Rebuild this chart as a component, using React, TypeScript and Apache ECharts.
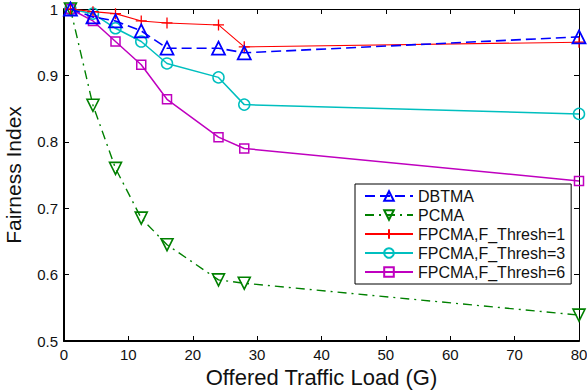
import React, { useEffect, useRef } from "react";
import * as echarts from "echarts";

const xValues = [1, 4.5, 8, 12, 16, 24, 28, 80];
const dbtma = [1.0, 0.988, 0.982, 0.967, 0.941, 0.941, 0.934, 0.958];
const pcma = [1.0, 0.855, 0.76, 0.685, 0.645, 0.592, 0.587, 0.539];
const fpcma1 = [1.0, 0.996, 0.993, 0.982, 0.979, 0.976, 0.943, 0.95];
const fpcma3 = [1.0, 0.993, 0.971, 0.951, 0.918, 0.897, 0.856, 0.842];
const fpcma6 = [1.0, 0.982, 0.951, 0.916, 0.864, 0.807, 0.79, 0.741];
const seriesNames = [
  "DBTMA",
  "PCMA",
  "FPCMA,F_Thresh=1",
  "FPCMA,F_Thresh=3",
  "FPCMA,F_Thresh=6",
];

const FONT = "Liberation Sans, Arial, Helvetica, sans-serif";

const pair = (ys: number[]) => xValues.map((x, i) => [x, ys[i]]);

export default function App() {
  const ref = useRef<HTMLDivElement>(null);
  useEffect(() => {
    if (!ref.current) return;
    const chart = echarts.init(ref.current, undefined, { renderer: "svg" });
    const hollow = (c: string, w = 1.5) => ({
      color: "rgba(255,255,255,0)",
      borderColor: c,
      borderWidth: w,
    });
    chart.setOption({
      animation: false,
      backgroundColor: "#ffffff",
      textStyle: { fontFamily: FONT },
      grid: {
        left: 64,
        right: 8,
        top: 9,
        bottom: 51,
        containLabel: false,
        outerBoundsMode: "none",
      },
      xAxis: [
        {
          type: "value",
          min: 0,
          max: 80,
          interval: 10,
          name: "Offered Traffic Load (G)",
          nameLocation: "middle",
          nameGap: 16,
          nameTextStyle: { fontSize: 22, color: "#111", fontFamily: FONT },
          axisLine: { show: true, onZero: false, lineStyle: { color: "#000", width: 2 } },
          axisTick: { show: true, inside: true, length: 5, lineStyle: { color: "#000", width: 1 } },
          axisLabel: { fontSize: 15, color: "#111", margin: 6, fontFamily: FONT },
          splitLine: { show: false },
        },
        {
          type: "value",
          position: "top",
          min: 0,
          max: 80,
          interval: 10,
          axisLine: { show: true, onZero: false, lineStyle: { color: "#000", width: 1 } },
          axisTick: { show: true, inside: true, length: 5, lineStyle: { color: "#000", width: 1 } },
          axisLabel: { show: false },
          splitLine: { show: false },
        },
      ],
      yAxis: [
        {
          type: "value",
          min: 0.5,
          max: 1,
          interval: 0.1,
          name: "Fairness Index",
          nameLocation: "middle",
          nameGap: 40,
          nameTextStyle: { fontSize: 21, color: "#111", fontFamily: FONT },
          axisLine: { show: true, onZero: false, lineStyle: { color: "#000", width: 2 } },
          axisTick: { show: true, inside: true, length: 5, lineStyle: { color: "#000", width: 1 } },
          axisLabel: {
            fontSize: 15,
            color: "#111",
            margin: 6,
            fontFamily: FONT,
            formatter: (v: number) => String(Math.round(v * 10) / 10),
          },
          splitLine: { show: false },
        },
        {
          type: "value",
          position: "right",
          min: 0.5,
          max: 1,
          interval: 0.1,
          axisLine: { show: true, onZero: false, lineStyle: { color: "#000", width: 1 } },
          axisTick: { show: true, inside: true, length: 5, lineStyle: { color: "#000", width: 1 } },
          axisLabel: { show: false },
          splitLine: { show: false },
        },
      ],
      legend: {
        orient: "vertical",
        left: 355,
        top: 184,
        padding: [4, 6, 4, 9],
        itemWidth: 48,
        itemHeight: 12,
        itemGap: 3,
        backgroundColor: "#fff",
        borderColor: "#000",
        borderWidth: 1,
        borderRadius: 0,
        textStyle: { fontSize: 16, color: "#111", fontFamily: FONT },
        data: seriesNames,
      },
      series: [
        {
          name: seriesNames[0],
          type: "line",
          data: pair(dbtma),
          symbol: "triangle",
          symbolSize: 13,
          lineStyle: { color: "#0000ff", width: 1.6, type: [10, 5] },
          itemStyle: hollow("#0000ff", 1.8),
          z: 5,
        },
        {
          name: seriesNames[1],
          type: "line",
          data: pair(pcma),
          symbol: "triangle",
          symbolRotate: 180,
          symbolSize: 12,
          lineStyle: { color: "#008000", width: 1.4, type: [9, 5, 2, 5] },
          itemStyle: hollow("#008000", 1.6),
          z: 4,
        },
        {
          name: seriesNames[2],
          type: "line",
          data: pair(fpcma1),
          symbol: "path://M5,0L5,10M0,5L10,5",
          symbolSize: 11,
          lineStyle: { color: "#ff0000", width: 1.1 },
          itemStyle: hollow("#ff0000", 1.3),
          z: 4,
        },
        {
          name: seriesNames[3],
          type: "line",
          data: pair(fpcma3),
          symbol: "circle",
          symbolSize: 11,
          lineStyle: { color: "#00bfbf", width: 1.5 },
          itemStyle: hollow("#00bfbf", 1.5),
          z: 3,
        },
        {
          name: seriesNames[4],
          type: "line",
          data: pair(fpcma6),
          symbol: "rect",
          symbolSize: 9,
          lineStyle: { color: "#bf00bf", width: 1.5 },
          itemStyle: hollow("#bf00bf", 1.5),
          z: 3,
        },
      ],
    });
    return () => chart.dispose();
  }, []);
  return <div ref={ref} style={{ width: 587, height: 392, position: "absolute", left: 0, top: 0 }} />;
}
